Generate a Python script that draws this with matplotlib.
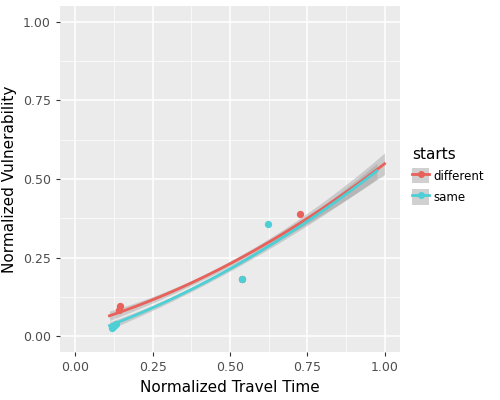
import numpy as np
import matplotlib.pyplot as plt
from matplotlib.lines import Line2D
from matplotlib.patches import Patch

diff_x = [0.141, 0.145, 0.540, 0.727]
diff_y = [0.085, 0.097, 0.182, 0.389]
same_x = [0.119, 0.125, 0.132, 0.540, 0.624]
same_y = [0.025, 0.034, 0.040, 0.182, 0.357]
groups = ["different", "same"]
colors = ["#E8615A", "#4DCFD6"]

# smooth curves
diff_fit_x = [0.11, 0.25, 0.50, 0.75, 1.00]
diff_fit_y = [0.065, 0.115, 0.235, 0.37, 0.55]
diff_fit_se = [0.015, 0.01, 0.01, 0.015, 0.035]
same_fit_x = [0.11, 0.25, 0.50, 0.75, 0.975]
same_fit_y = [0.03, 0.095, 0.22, 0.355, 0.53]
same_fit_se = [0.012, 0.008, 0.008, 0.012, 0.025]

fig, ax = plt.subplots(figsize=(5, 4), dpi=100)
fig.subplots_adjust(left=0.12, right=0.8, bottom=0.12, top=0.985)
ax.set_facecolor("#EBEBEB")
ax.set_xlim(-0.05, 1.05)
ax.set_ylim(-0.05, 1.05)
ticks = [0, 0.25, 0.5, 0.75, 1.0]
ax.set_xticks(ticks)
ax.set_yticks(ticks)
ax.set_xticklabels(["0.00", "0.25", "0.50", "0.75", "1.00"])
ax.set_yticklabels(["0.00", "0.25", "0.50", "0.75", "1.00"])
ax.set_xticks([0.125, 0.375, 0.625, 0.875], minor=True)
ax.set_yticks([0.125, 0.375, 0.625, 0.875], minor=True)
ax.grid(which="major", color="white", lw=1.1)
ax.grid(which="minor", color="white", lw=0.5)
ax.set_axisbelow(True)
for s in ax.spines.values():
    s.set_visible(False)
ax.tick_params(which="both", length=3, color="#333333", labelcolor="#4D4D4D", labelsize=9)
ax.tick_params(which="minor", length=0)

fits = [(diff_fit_x, diff_fit_y, diff_fit_se), (same_fit_x, same_fit_y, same_fit_se)]
for (fx, fy, fs), c in zip(fits, colors):
    xs = np.linspace(fx[0], fx[-1], 100)
    f = np.polyval(np.polyfit(fx, fy, 2), xs)
    se = np.polyval(np.polyfit(fx, fs, 2), xs)
    ax.fill_between(xs, f - se, f + se, color="#999999", alpha=0.4, lw=0)
    ax.plot(xs, f, color=c, lw=2)

data = [(diff_x, diff_y), (same_x, same_y)]
for (x, y), c in zip(data, colors):
    ax.scatter(x, y, color=c, s=18, zorder=3)

ax.set_xlabel("Normalized Travel Time", fontsize=11)
ax.set_ylabel("Normalized Vulnerability", fontsize=11)

handles = [(Patch(facecolor="#D0D0D0", edgecolor="none"),
            Line2D([], [], color=c, lw=2, marker="o", markersize=4)) for c in colors]
leg = fig.legend(handles, groups, title="starts", loc="center left",
                 bbox_to_anchor=(0.82, 0.56), frameon=False, fontsize=8.5,
                 title_fontsize=11, handlelength=1.4, handleheight=1.6,
                 handletextpad=0.4, borderaxespad=0, borderpad=0.2)
leg._legend_box.align = "left"
fig.savefig("out.png")
